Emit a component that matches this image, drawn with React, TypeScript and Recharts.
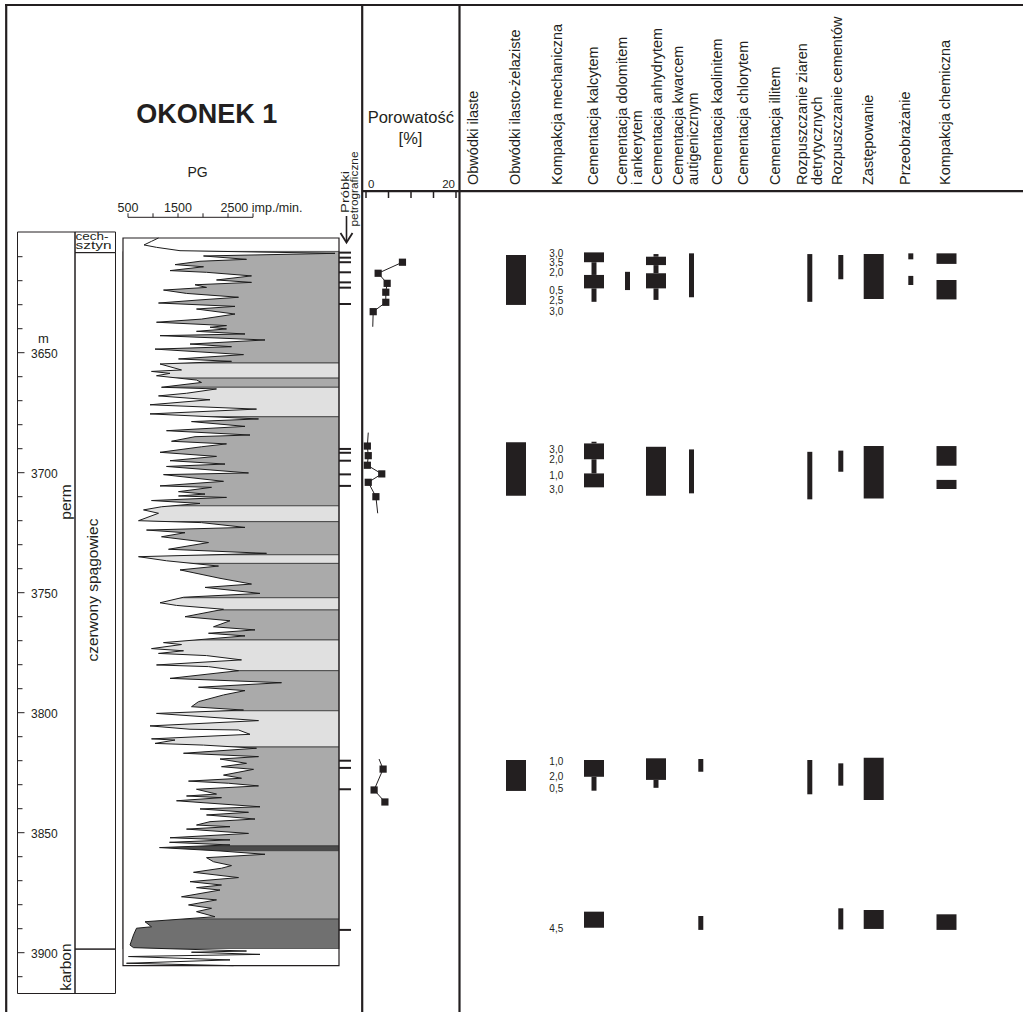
import React from 'react';
import { ComposedChart, XAxis, YAxis, Area, Scatter, ReferenceArea } from 'recharts';

const W = 1023;
const H = 1012;
const INK = '#231f20';
const FONT = '"Liberation Sans", Arial, Helvetica, sans-serif';

// shared depth scale (pixel of 3600 m and pixels per metre)
const Y_REF = 232.7;
const D_REF = 3600;
const PX_PER_M = 2.4;
const depthAt = (y: number) => D_REF + (y - Y_REF) / PX_PER_M;

// ---------------- data ----------------
const DEPTH_TICKS = [3610, 3620, 3630, 3640, 3650, 3660, 3670, 3680, 3690, 3700, 3710, 3720, 3730, 3740, 3750, 3760, 3770, 3780, 3790, 3800, 3810, 3820, 3830, 3840, 3850, 3860, 3870, 3880, 3890, 3900, 3910];
const DEPTH_LABELS = [3650, 3700, 3750, 3800, 3850, 3900];

const PG_TICKS = [500, 1000, 1500, 2000, 2500, 3000];
const PG_TICK_LABELS: Record<number, string> = { 500: '500', 1500: '1500', 2500: '2500 imp./min.' };

const POR_TICKS = [0, 5, 10, 15, 20];

// stratigraphy (depth in m)
const SERIES_UNITS = [
  { name: 'cechsztyn', top: 3599.7, base: 3608.3 },
  { name: 'czerwony spągowiec', top: 3608.3, base: 3898.5 },
  { name: 'karbon', top: 3898.5, base: 3917.0 },
];
const STRAT_LABELS = [
  { text: 'perm', depth: 3712.2, col: 'system', vertical: true },
  { text: 'karbon', depth: 3906.0, col: 'system', vertical: true },
  { text: 'czerwony spągowiec', depth: 3748.9, col: 'series', vertical: true },
  { text: 'cech-|sztyn', depth: 3603.4, col: 'series', vertical: false },
];

// gamma-ray log: [depth m, imp./min]
const PG_LOG: [number, number][] = [
  [3602.2, 1110], [3603.6, 970], [3605.1, 820], [3606.1, 1070], [3607.5, 1540], [3608.6, 4640], [3609.7, 2010], [3611.1, 2870], [3611.9, 1940], [3613.3, 1440],
  [3614.2, 2010], [3615.8, 1340], [3616.5, 2070], [3618.0, 2970], [3619.7, 2270], [3620.7, 2970], [3621.7, 1840], [3622.8, 2070], [3623.9, 1210], [3625.3, 1670],
  [3626.9, 2710], [3628.0, 1940], [3629.3, 1110], [3630.7, 2640], [3631.8, 1870], [3633.9, 2640], [3636.0, 1970], [3637.3, 1070], [3638.7, 2470], [3639.4, 2140],
  [3640.1, 2470], [3641.1, 1870], [3642.2, 2840], [3642.9, 1140], [3644.7, 3240], [3646.4, 1740], [3647.5, 2570], [3648.5, 1040], [3650.8, 2810], [3652.6, 1510],
  [3653.6, 2570], [3654.7, 1140], [3657.2, 1570], [3657.8, 970], [3658.6, 1340], [3659.6, 1070], [3661.4, 1870], [3662.4, 1970], [3664.4, 1170], [3665.1, 2270],
  [3666.9, 1670], [3668.0, 1110], [3669.6, 2140], [3671.7, 940], [3673.5, 3070], [3675.5, 940], [3677.6, 3110], [3678.7, 1770], [3680.7, 2840], [3682.5, 1270],
  [3684.3, 2940], [3685.0, 1840], [3686.9, 1370], [3688.0, 2470], [3689.2, 1970], [3691.5, 1140], [3693.2, 2270], [3695.0, 1340], [3696.4, 2440], [3697.4, 1270],
  [3700.1, 2910], [3700.8, 1210], [3703.6, 2410], [3705.5, 1140], [3706.1, 2170], [3707.9, 1510], [3708.9, 2040], [3709.7, 1510], [3710.3, 2470], [3711.6, 970],
  [3712.8, 1940], [3714.2, 1170], [3715.5, 810], [3716.9, 1110], [3720.0, 710], [3720.8, 1970], [3722.8, 2840], [3723.9, 870], [3725.0, 1640], [3726.7, 1170],
  [3729.1, 2110], [3731.9, 1310], [3733.6, 3270], [3735.0, 710], [3736.7, 1270], [3738.9, 2310], [3740.5, 1540], [3744.0, 2340], [3746.4, 2970], [3747.8, 2040],
  [3750.3, 3140], [3751.9, 1610], [3754.2, 1140], [3755.3, 1470], [3756.9, 2410], [3760.0, 1640], [3761.7, 2540], [3764.2, 2210], [3765.5, 3040], [3766.9, 2110],
  [3768.0, 2840], [3770.8, 1210], [3771.6, 1570], [3773.3, 970], [3774.2, 1610], [3775.3, 1110], [3776.2, 2070], [3778.0, 2770], [3780.1, 1070], [3780.8, 2110],
  [3782.5, 2710], [3785.7, 1340], [3787.5, 3570], [3789.4, 1910], [3790.8, 2840], [3792.6, 2410], [3795.4, 1910], [3797.5, 1770], [3798.9, 2810], [3800.3, 1070],
  [3803.3, 3110], [3805.5, 940], [3806.9, 1740], [3807.2, 2710], [3809.0, 2940], [3810.9, 970], [3811.4, 1440], [3812.8, 1040], [3813.5, 2010], [3814.8, 3070],
  [3816.9, 1610], [3818.3, 3110], [3819.3, 2340], [3821.1, 2870], [3822.5, 2370], [3823.6, 3010], [3826.0, 2410], [3827.3, 2770], [3828.5, 1710], [3829.4, 2510],
  [3830.5, 3110], [3831.9, 1870], [3833.9, 2270], [3834.7, 1670], [3835.4, 2370], [3836.7, 1470], [3839.2, 3140], [3840.1, 1940], [3841.5, 2910], [3842.6, 2070],
  [3844.3, 3040], [3845.4, 2140], [3846.8, 1870], [3847.5, 2540], [3848.5, 1670], [3850.3, 2910], [3852.1, 1340], [3853.0, 2540], [3854.0, 1330], [3855.1, 2540],
  [3856.2, 1130], [3857.6, 2340], [3859.0, 3240], [3860.4, 2070], [3862.1, 2210], [3863.7, 2570], [3864.8, 2370], [3866.5, 1810], [3868.7, 2710], [3870.4, 1740],
  [3871.8, 2370], [3872.9, 1870], [3873.9, 2340], [3876.7, 1570], [3878.0, 2270], [3880.1, 1710], [3881.5, 2170], [3882.9, 1870], [3885.0, 2240], [3887.1, 840],
  [3889.2, 970], [3889.8, 670], [3892.6, 610], [3896.8, 540], [3897.9, 610], [3899.3, 2870], [3899.8, 1770], [3900.7, 3140], [3901.6, 510], [3903.0, 2540],
  [3904.4, 470], [3905.4, 2610],
];

// lithology intervals behind the log
const LITHOLOGY = [
  { top: 3602.2, base: 3607.8, kind: 'none' },
  { top: 3607.8, base: 3654.3, kind: 'sand' },
  { top: 3654.3, base: 3660.6, kind: 'light' },
  { top: 3660.6, base: 3664.4, kind: 'sand' },
  { top: 3664.4, base: 3676.7, kind: 'light' },
  { top: 3676.7, base: 3713.8, kind: 'sand' },
  { top: 3713.8, base: 3720.4, kind: 'light' },
  { top: 3720.4, base: 3734.2, kind: 'sand' },
  { top: 3734.2, base: 3737.8, kind: 'light' },
  { top: 3737.8, base: 3752.1, kind: 'sand' },
  { top: 3752.1, base: 3757.2, kind: 'light' },
  { top: 3757.2, base: 3769.7, kind: 'sand' },
  { top: 3769.7, base: 3782.5, kind: 'light' },
  { top: 3782.5, base: 3799.2, kind: 'sand' },
  { top: 3799.2, base: 3814.3, kind: 'light' },
  { top: 3814.3, base: 3855.5, kind: 'sand' },
  { top: 3855.5, base: 3857.5, kind: 'band' },
  { top: 3857.5, base: 3886.0, kind: 'sand' },
  { top: 3886.0, base: 3898.5, kind: 'dark' },
  { top: 3898.5, base: 3905.4, kind: 'none' },
];
const LOG_BOX = { top: 3602.2, base: 3905.4 };

// petrographic samples (depth m)
const SAMPLE_DEPTHS = [3608.3, 3610.4, 3612.3, 3616.5, 3620.7, 3622.9, 3629.7, 3690.1, 3691.7, 3695.0, 3700.7, 3705.5, 3820.0, 3823.0, 3831.9, 3890.5];

// porosity [depth m, %]
const POR_GROUP_1: [number, number][] = [[3612.3, 8.1], [3616.9, 2.7], [3621.1, 4.7], [3624.8, 4.4], [3629.0, 4.4], [3632.9, 1.6]];
const POR_GROUP_2: [number, number][] = [[3688.9, 0.3], [3692.9, 0.5], [3696.9, 0.3], [3700.5, 3.5], [3704.0, 0.5], [3710.0, 2.2]];
const POR_GROUP_3: [number, number][] = [[3823.5, 3.8], [3832.2, 1.8], [3837.2, 4.2]];
const POR_TAILS: [number, number][][] = [
  [[3632.9, 1.6], [3639.2, 1.5]],
  [[3683.3, 0.5], [3688.9, 0.3]],
  [[3710.0, 2.2], [3716.9, 2.6]],
  [[3819.3, 2.9], [3823.5, 3.8]],
];

// diagenetic processes: column titles
const COLUMN_TITLES: string[][] = [
  ['Obwódki ilaste'],
  ['Obwódki ilasto-żelaziste'],
  ['Kompakcja mechaniczna'],
  ['Cementacja kalcytem'],
  ['Cementacja dolomitem', 'i ankerytem'],
  ['Cementacja anhydrytem'],
  ['Cementacja kwarcem', 'autigenicznym'],
  ['Cementacja kaolinitem'],
  ['Cementacja chlorytem'],
  ['Cementacja illitem'],
  ['Rozpuszczanie ziaren', 'detrytycznych'],
  ['Rozpuszczanie cementów'],
  ['Zastępowanie'],
  ['Przeobrażanie'],
  ['Kompakcja chemiczna'],
];

// process intervals: intensity 'w' strong, 'n' weak
const PROCESS_BARS = [
  { col: 'obwIlZel', top: 3609.3, base: 3630.1, s: 'w' },
  { col: 'obwIlZel', top: 3687.3, base: 3709.6, s: 'w' },
  { col: 'obwIlZel', top: 3819.7, base: 3832.6, s: 'w' },
  { col: 'kalcyt', top: 3608.2, base: 3612.3, s: 'w' },
  { col: 'kalcyt', top: 3612.3, base: 3617.6, s: 'n' },
  { col: 'kalcyt', top: 3617.6, base: 3623.2, s: 'w' },
  { col: 'kalcyt', top: 3623.2, base: 3628.8, s: 'n' },
  { col: 'kalcyt', top: 3687.1, base: 3687.8, s: 'n' },
  { col: 'kalcyt', top: 3687.8, base: 3694.4, s: 'w' },
  { col: 'kalcyt', top: 3694.4, base: 3700.3, s: 'n' },
  { col: 'kalcyt', top: 3700.3, base: 3706.1, s: 'w' },
  { col: 'kalcyt', top: 3819.7, base: 3826.7, s: 'w' },
  { col: 'kalcyt', top: 3826.7, base: 3832.5, s: 'n' },
  { col: 'kalcyt', top: 3882.9, base: 3889.6, s: 'w' },
  { col: 'dolomit', top: 3616.3, base: 3623.9, s: 'n' },
  { col: 'anhydryt', top: 3608.9, base: 3610.0, s: 'n' },
  { col: 'anhydryt', top: 3610.0, base: 3613.5, s: 'w' },
  { col: 'anhydryt', top: 3613.5, base: 3616.9, s: 'n' },
  { col: 'anhydryt', top: 3616.9, base: 3623.2, s: 'w' },
  { col: 'anhydryt', top: 3623.2, base: 3628.0, s: 'n' },
  { col: 'anhydryt', top: 3689.2, base: 3709.6, s: 'w' },
  { col: 'anhydryt', top: 3819.0, base: 3828.0, s: 'w' },
  { col: 'anhydryt', top: 3828.0, base: 3831.3, s: 'n' },
  { col: 'kwarc', top: 3608.6, base: 3626.9, s: 'n' },
  { col: 'kwarc', top: 3690.3, base: 3708.6, s: 'n' },
  { col: 'kwarc2', top: 3819.3, base: 3824.6, s: 'n' },
  { col: 'kwarc2', top: 3884.7, base: 3890.5, s: 'n' },
  { col: 'rozpZiaren', top: 3608.9, base: 3628.8, s: 'n' },
  { col: 'rozpZiaren', top: 3691.3, base: 3711.1, s: 'n' },
  { col: 'rozpZiaren', top: 3819.7, base: 3834.0, s: 'n' },
  { col: 'rozpCem', top: 3609.3, base: 3619.4, s: 'n' },
  { col: 'rozpCem', top: 3690.8, base: 3699.6, s: 'n' },
  { col: 'rozpCem', top: 3821.1, base: 3830.4, s: 'n' },
  { col: 'rozpCem', top: 3881.5, base: 3890.3, s: 'n' },
  { col: 'zastep', top: 3608.9, base: 3627.6, s: 'w' },
  { col: 'zastep', top: 3688.9, base: 3710.7, s: 'w' },
  { col: 'zastep', top: 3818.8, base: 3836.4, s: 'w' },
  { col: 'zastep', top: 3882.2, base: 3890.1, s: 'w' },
  { col: 'przeobr', top: 3608.6, base: 3611.1, s: 'n' },
  { col: 'przeobr', top: 3618.0, base: 3621.8, s: 'n' },
  { col: 'kompChem', top: 3608.6, base: 3613.0, s: 'w' },
  { col: 'kompChem', top: 3619.7, base: 3627.8, s: 'w' },
  { col: 'kompChem', top: 3688.9, base: 3697.1, s: 'w' },
  { col: 'kompChem', top: 3703.0, base: 3706.8, s: 'w' },
  { col: 'kompChem', top: 3884.0, base: 3890.5, s: 'w' },
];

// mechanical compaction values (%)
const KM_VALUES = [
  { depth: 3608.5, text: '3,0' }, { depth: 3612.3, text: '3,5' }, { depth: 3616.5, text: '2,0' },
  { depth: 3623.9, text: '0,5' }, { depth: 3628.3, text: '2,5' }, { depth: 3632.9, text: '3,0' },
  { depth: 3690.5, text: '3,0' }, { depth: 3694.7, text: '2,0' }, { depth: 3701.0, text: '1,0' }, { depth: 3707.2, text: '3,0' },
  { depth: 3820.4, text: '1,0' }, { depth: 3826.4, text: '2,0' }, { depth: 3831.5, text: '0,5' },
  { depth: 3889.8, text: '4,5' },
];

// ---------------- layout (positions & styles) ----------------
const STRAT = { left: 17.5, split: 75, right: 115.5, top: 232, bottom: 993.5 };
const STRAT_COL_X: Record<string, number> = { system: 65.5, series: 93 };
const PG_PLOT = { left: 123, right: 352, top: 232, bottom: 993.5 };
const PG_DOMAIN: [number, number] = [400, 4980];
const PG_BOX_RIGHT = 4720;
const PG_SCALE = { left: 128, right: 253, axisY: 217.3 };
const POR_PLOT = { left: 366, right: 456, top: 191, bottom: 1010 };
const RIGHT_PLOT = { left: 460, right: 1023, top: 191, bottom: 1010 };
const COLUMN_X = [473.3, 515, 556.7, 593.3, 629.2, 656.7, 685.8, 716.7, 743.3, 775, 809.2, 836.7, 868.3, 905, 945];
const LANE_X: Record<string, number> = {
  obwIlZel: 516, kalcyt: 594, dolomit: 627.5, anhydryt: 656, kwarc: 691.5, kwarc2: 700.8,
  rozpZiaren: 809.8, rozpCem: 840.8, zastep: 873.7, przeobr: 910.8, kompChem: 946.5,
};
const KM_LANE_X = 556.3;
const BAR_WIDTH: Record<string, number> = { w: 20, n: 5 };
const LITHO_FILL: Record<string, string> = { none: '#ffffff', sand: '#aaaaaa', light: '#e0e0e0', dark: '#707070', band: '#4a4a4a' };

const abs: React.CSSProperties = { position: 'absolute', left: 0, top: 0 };

// ---------------- custom ticks / shapes ----------------
const DepthTick = (p: any) => {
  const { x, y, payload } = p;
  const v = payload.value;
  const major = DEPTH_LABELS.includes(v);
  return (
    <g>
      <line x1={x} x2={x + (major ? 7 : 5)} y1={y} y2={y} stroke={INK} strokeWidth={1} />
      {major && (
        <text x={x + 13.5} y={y + 1.5} dominantBaseline="central" fontSize={12} fontFamily={FONT} fill={INK}>{v}</text>
      )}
    </g>
  );
};

const PgScaleTick = (p: any) => {
  const { x, y, payload } = p;
  const label = PG_TICK_LABELS[payload.value];
  if (!label) return <g />;
  const isLast = payload.value === 2500;
  return (
    <text x={isLast ? x - 7.5 : x} y={y - 1} textAnchor={isLast ? 'start' : 'middle'} fontSize={12.5} fontFamily={FONT} fill={INK}>{label}</text>
  );
};

const PorTick = (p: any) => {
  const { x, y, payload } = p;
  const v = payload.value;
  return (
    <g>
      <line x1={x} x2={x} y1={y} y2={y + 7} stroke={INK} strokeWidth={1.5} />
      {v === 0 && <text x={x + 2} y={y - 3} fontSize={11.5} fontFamily={FONT} fill={INK}>0</text>}
      {v === 20 && <text x={x - 1} y={y - 3} textAnchor="end" fontSize={11.5} fontFamily={FONT} fill={INK}>20</text>}
    </g>
  );
};

const HeaderTick = (p: any) => {
  const { x, y, payload } = p;
  const idx = COLUMN_X.indexOf(payload.value);
  const lines = COLUMN_TITLES[idx] || [];
  const n = lines.length;
  return (
    <g>
      {lines.map((t, i) => {
        const cx = x + (i - (n - 1) / 2) * 15;
        const ty = y - 6;
        return (
          <text key={i} x={cx} y={ty} transform={`rotate(-90 ${cx} ${ty})`} textAnchor="start" dominantBaseline="central"
            fontSize={14.5} fontFamily={FONT} fill={INK}>{t}</text>
        );
      })}
    </g>
  );
};

const SquareDot = (p: any) => <rect x={p.cx - 3.6} y={p.cy - 3.6} width={7.2} height={7.2} fill={INK} />;
const NoDot = () => <g />;
const SampleMark = (p: any) => <line x1={p.cx} x2={p.cx + 12} y1={p.cy} y2={p.cy} stroke={INK} strokeWidth={2} />;

const KmLabel = (p: any) => (
  <text x={p.cx} y={p.cy} textAnchor="middle" dominantBaseline="central" fontSize={10} fontFamily={FONT} fill={INK}>{p.payload.text}</text>
);

const StratLabel = (p: any) => {
  const { cx, cy, payload } = p;
  if (payload.vertical) {
    return (
      <text x={cx} y={cy} transform={`rotate(-90 ${cx} ${cy})`} textAnchor="middle" dominantBaseline="central"
        fontSize={15.5} fontFamily={FONT} fill={INK}>{payload.text}</text>
    );
  }
  const parts = String(payload.text).split('|');
  return (
    <g>
      {parts.map((t, i) => (
        <text key={i} x={cx - 17.5} y={cy - 4.5 + i * 9} dominantBaseline="central" fontSize={10} fontFamily={FONT} fill={INK}
          textLength={i === 0 ? 33 : 36} lengthAdjust="spacingAndGlyphs">{t}</text>
      ))}
    </g>
  );
};

const marginFor = (plot: { left: number; right: number; top: number; bottom: number }, axisTop = 0, axisLeft = 0) => ({
  left: plot.left - axisLeft,
  right: W - plot.right,
  top: plot.top - axisTop,
  bottom: H - plot.bottom,
});

const pgRows = PG_LOG.map(([depth, v]) => ({ depth, v }));
const pgDepthDomain: [number, number] = [depthAt(PG_PLOT.top), depthAt(PG_PLOT.bottom)];

// ---------------- panels ----------------
function StratPanel() {
  const dom: [number, number] = [depthAt(STRAT.top), depthAt(STRAT.bottom)];
  const labels = STRAT_LABELS.map((l) => ({ ...l, x: STRAT_COL_X[l.col] }));
  return (
    <div style={abs}>
      <ComposedChart width={W} height={H} margin={marginFor(STRAT, 0, 10)}>
        <XAxis type="number" dataKey="x" domain={[STRAT.left, STRAT.right]} hide />
        <YAxis type="number" dataKey="depth" domain={dom} reversed width={10} ticks={DEPTH_TICKS} interval={0}
          tick={DepthTick} tickLine={false} axisLine={false} tickSize={0} tickMargin={0} />
        <ReferenceArea x1={STRAT.left} x2={STRAT.split} y1={dom[0]} y2={dom[1]} fill="none" stroke={INK} strokeWidth={1} ifOverflow="visible" />
        {SERIES_UNITS.map((u) => (
          <ReferenceArea key={u.name} x1={STRAT.split} x2={STRAT.right} y1={u.top} y2={u.base} fill="none" stroke={INK} strokeWidth={1} ifOverflow="visible" />
        ))}
        <Scatter data={labels} shape={StratLabel} isAnimationActive={false} />
      </ComposedChart>
    </div>
  );
}

// vertical layout: depth axis runs top -> bottom without "reversed"
function PgZones() {
  return (
    <div style={abs}>
      <ComposedChart layout="vertical" width={W} height={H} margin={marginFor(PG_PLOT)} data={pgRows}>
        <XAxis type="number" dataKey="v" domain={PG_DOMAIN} hide />
        <YAxis type="number" dataKey="depth" domain={pgDepthDomain} hide />
        {LITHOLOGY.map((z, i) => (
          <ReferenceArea key={i} x1={PG_DOMAIN[0]} x2={PG_BOX_RIGHT} y1={z.top} y2={z.base} fill={LITHO_FILL[z.kind]} fillOpacity={1}
            stroke={z.kind === 'none' ? 'none' : '#3a3a3a'} strokeWidth={0.8} ifOverflow="visible" />
        ))}
        <Scatter data={pgRows} shape={NoDot} isAnimationActive={false} />
      </ComposedChart>
    </div>
  );
}

function PgCurve() {
  return (
    <div style={abs}>
      <ComposedChart layout="vertical" width={W} height={H} margin={marginFor(PG_PLOT)} data={pgRows}>
        <XAxis type="number" dataKey="v" domain={PG_DOMAIN} hide />
        <YAxis type="number" dataKey="depth" domain={pgDepthDomain} hide />
        <Area type="linear" dataKey="v" baseValue={PG_DOMAIN[0]} fill="#ffffff" fillOpacity={1} stroke="#1c1c1c" strokeWidth={1}
          dot={false} activeDot={false} isAnimationActive={false} />
      </ComposedChart>
    </div>
  );
}

function PgFrame() {
  const samples = SAMPLE_DEPTHS.map((depth) => ({ depth, v: PG_BOX_RIGHT }));
  return (
    <div style={abs}>
      <ComposedChart layout="vertical" width={W} height={H} margin={marginFor(PG_PLOT)} data={samples}>
        <XAxis type="number" dataKey="v" domain={PG_DOMAIN} hide />
        <YAxis type="number" dataKey="depth" domain={pgDepthDomain} hide />
        <ReferenceArea x1={PG_DOMAIN[0]} x2={PG_BOX_RIGHT} y1={LOG_BOX.top} y2={LOG_BOX.base} fill="none" stroke={INK} strokeWidth={1.2} ifOverflow="visible" />
        <Scatter data={samples} shape={SampleMark} isAnimationActive={false} />
      </ComposedChart>
    </div>
  );
}

function PgScale() {
  const plot = { left: PG_SCALE.left, right: PG_SCALE.right, top: PG_SCALE.axisY, bottom: 1000 };
  const tickRows = PG_TICKS.map((v) => ({ v, y: 0.5 }));
  return (
    <div style={abs}>
      <ComposedChart width={W} height={H} margin={marginFor(plot, 30)} data={tickRows}>
        <XAxis type="number" dataKey="v" orientation="top" height={30} domain={[500, 3000]} ticks={PG_TICKS} interval={0}
          tick={PgScaleTick} tickSize={4} tickMargin={0} axisLine={{ stroke: INK, strokeWidth: 1 }} tickLine={{ stroke: INK, strokeWidth: 1 }} />
        <YAxis type="number" dataKey="y" domain={[0, 1]} hide />
        <Scatter data={tickRows} shape={NoDot} isAnimationActive={false} />
      </ComposedChart>
    </div>
  );
}

function PorosityPanel() {
  const dom: [number, number] = [depthAt(POR_PLOT.top), depthAt(POR_PLOT.bottom)];
  const toRows = (g: [number, number][]) => g.map(([depth, por]) => ({ depth, por }));
  return (
    <div style={abs}>
      <ComposedChart width={W} height={H} margin={marginFor(POR_PLOT, 30)}>
        <XAxis type="number" dataKey="por" orientation="top" height={30} domain={[0, 20]} ticks={POR_TICKS} interval={0}
          tick={PorTick} tickLine={false} axisLine={false} tickSize={0} tickMargin={0} />
        <YAxis type="number" dataKey="depth" domain={dom} reversed hide />
        {POR_TAILS.map((t, i) => (
          <Scatter key={'t' + i} data={toRows(t)} line={{ stroke: INK, strokeWidth: 1 }} shape={NoDot} isAnimationActive={false} />
        ))}
        {[POR_GROUP_1, POR_GROUP_2, POR_GROUP_3].map((g, i) => (
          <Scatter key={'g' + i} data={toRows(g)} line={{ stroke: INK, strokeWidth: 1 }} shape={SquareDot} isAnimationActive={false} />
        ))}
      </ComposedChart>
    </div>
  );
}

function ProcessPanel() {
  const dom: [number, number] = [depthAt(RIGHT_PLOT.top), depthAt(RIGHT_PLOT.bottom)];
  const km = KM_VALUES.map((k) => ({ ...k, x: KM_LANE_X }));
  return (
    <div style={abs}>
      <ComposedChart width={W} height={H} margin={marginFor(RIGHT_PLOT, 30)}>
        <XAxis type="number" dataKey="x" orientation="top" height={30} domain={[RIGHT_PLOT.left, RIGHT_PLOT.right]} ticks={COLUMN_X} interval={0}
          tick={HeaderTick} tickLine={false} axisLine={false} tickSize={0} tickMargin={0} />
        <YAxis type="number" dataKey="depth" domain={dom} reversed hide />
        {PROCESS_BARS.map((b, i) => {
          const cx = LANE_X[b.col];
          const hw = BAR_WIDTH[b.s] / 2;
          return (
            <ReferenceArea key={i} x1={cx - hw} x2={cx + hw} y1={b.top} y2={b.base} fill={INK} fillOpacity={1} stroke="none" ifOverflow="visible" />
          );
        })}
        <Scatter data={km} shape={KmLabel} isAnimationActive={false} />
      </ComposedChart>
    </div>
  );
}

function Overlay() {
  return (
    <svg width={W} height={H} style={abs}>
      <g stroke={INK} strokeWidth={2.2}>
        <line x1={5} y1={5} x2={W} y2={5} />
        <line x1={6.2} y1={4} x2={6.2} y2={H} />
        <line x1={362.2} y1={4} x2={362.2} y2={H} />
        <line x1={459.5} y1={4} x2={459.5} y2={H} />
        <line x1={362} y1={191.2} x2={W} y2={191.2} />
      </g>
      <text x={206.7} y={123.3} textAnchor="middle" fontSize={27} fontWeight="bold" fontFamily={FONT} fill={INK}>OKONEK 1</text>
      <text x={197.5} y={176.8} textAnchor="middle" fontSize={14} fontFamily={FONT} fill={INK}>PG</text>
      <text x={410.8} y={123.3} textAnchor="middle" fontSize={16.5} fontFamily={FONT} fill={INK}>Porowatość</text>
      <text x={410.5} y={143.5} textAnchor="middle" fontSize={16.5} fontFamily={FONT} fill={INK}>[%]</text>
      <text x={43.3} y={343} textAnchor="middle" fontSize={13} fontFamily={FONT} fill={INK}>m</text>
      <text x={345} y={192} transform="rotate(-90 345 192)" textAnchor="middle" dominantBaseline="central" fontSize={10}
        fontFamily={FONT} fill={INK} textLength={42} lengthAdjust="spacingAndGlyphs">Próbki</text>
      <text x={354} y={189} transform="rotate(-90 354 189)" textAnchor="middle" dominantBaseline="central" fontSize={10}
        fontFamily={FONT} fill={INK} textLength={75} lengthAdjust="spacingAndGlyphs">petrograficzne</text>
      <line x1={346.5} y1={216} x2={346.5} y2={242} stroke={INK} strokeWidth={1.6} />
      <polyline points="340.5,233 346.5,242.5 352.5,233" fill="none" stroke={INK} strokeWidth={1.8} />
    </svg>
  );
}

export default function App() {
  return (
    <div style={{ position: 'absolute', left: 0, top: 0, width: W, height: H, background: '#ffffff', overflow: 'hidden' }}>
      <Overlay />
      <StratPanel />
      <PgZones />
      <PgCurve />
      <PgFrame />
      <PgScale />
      <PorosityPanel />
      <ProcessPanel />
    </div>
  );
}
